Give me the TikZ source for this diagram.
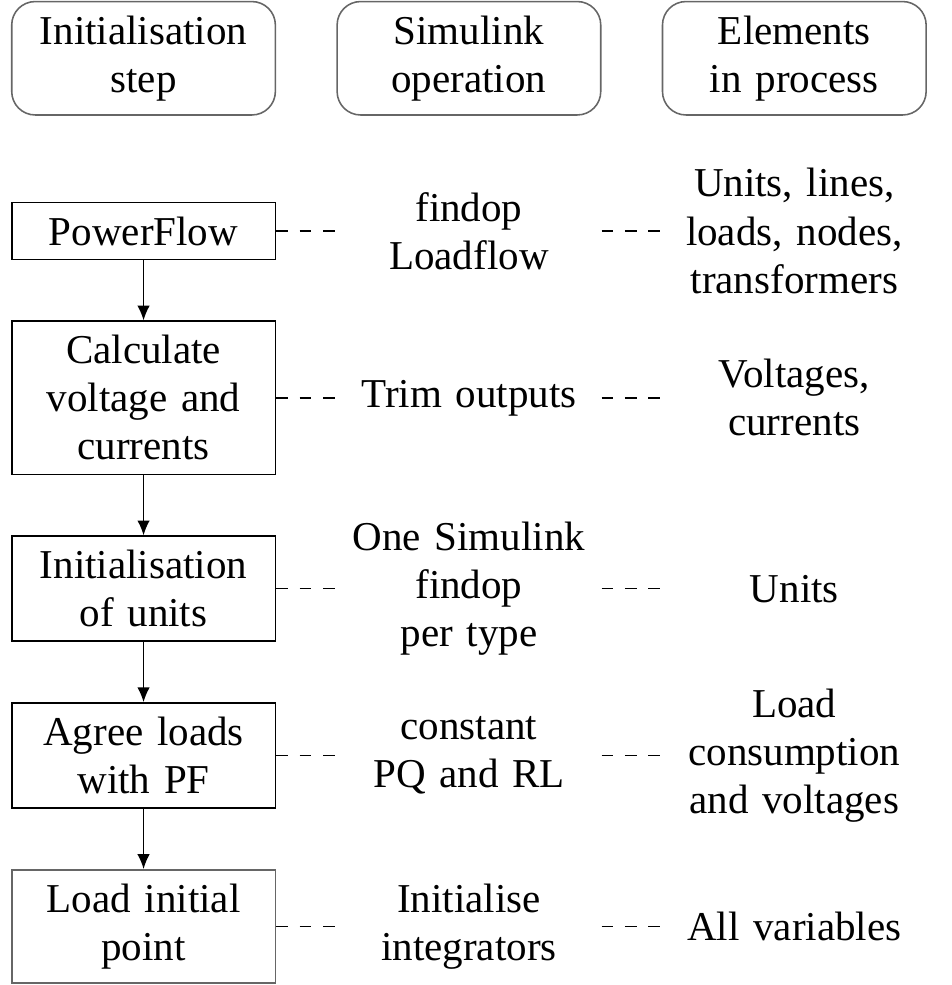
\documentclass[tikz,border=0pt]{standalone}
\usepackage{fontspec}
\setmainfont{Liberation Serif}
\usetikzlibrary{positioning,arrows.meta}

\tikzset{
	box/.style={text width=60.8pt, align=center, inner xsep=3.33pt, inner ysep=3.6pt, font=\fontsize{10.5}{12.3}\selectfont},
	header/.style={box, draw=black!60, rounded corners=6pt},
	stepbox/.style={box, draw},
	info/.style={box},
	link/.style={dashed},
	flow/.style={-{Latex[length=3.8pt,width=3.2pt]}},
}

\begin{document}
\begin{tikzpicture}[node distance=15.4pt]
\node[header] (hstep) {Initialisation\\step};
\node[header, right=of hstep] (hsim) {Simulink\\operation};
\node[header, right=of hsim] (helem) {Elements\\in process};

\node[stepbox, below=22pt of hstep] (pf) {PowerFlow};
\node[stepbox, below=of pf] (calc) {Calculate\\voltage and\\currents};
\node[stepbox, below=of calc] (units) {Initialisation\\of units};
\node[stepbox, below=of units] (loads) {Agree loads\\with PF};
\node[stepbox, draw=black!60, below=of loads] (init) {Load initial\\point};

\node[info, right=of pf] (findop) {findop\\Loadflow};
\node[info, right=of calc] (trim) {Trim outputs};
\node[info, right=of units] (onefindop) {One Simulink\\findop\\per type};
\node[info, right=of loads] (const) {constant\\PQ and RL};
\node[info, right=of init] (integ) {Initialise\\integrators};

\node[info, right=of findop] (elnet) {Units, lines,\\loads, nodes,\\transformers};
\node[info, right=of trim] (elvolt) {Voltages,\\currents};
\node[info, right=of onefindop] (elunits) {Units};
\node[info, right=of const] (elload) {Load\\consumption\\and voltages};
\node[info, right=of integ] (elall) {All variables};

\foreach \a/\b in {pf/calc, calc/units, units/loads, loads/init}
	\draw[flow] (\a) -- (\b);

\foreach \a/\b/\c in {pf/findop/elnet, calc/trim/elvolt, units/onefindop/elunits, loads/const/elload, init/integ/elall} {
	\draw[link] (\a) -- (\b);
	\draw[link] (\b) -- (\c);
}

\coordinate (topleft) at (hstep.west |- hstep.north);
\coordinate (botright) at (helem.east |- init.south);
\useasboundingbox ([xshift=-2.8pt, yshift=0.2pt]topleft) rectangle ([xshift=6.4pt, yshift=-0.25pt]botright);
\end{tikzpicture}
\end{document}
